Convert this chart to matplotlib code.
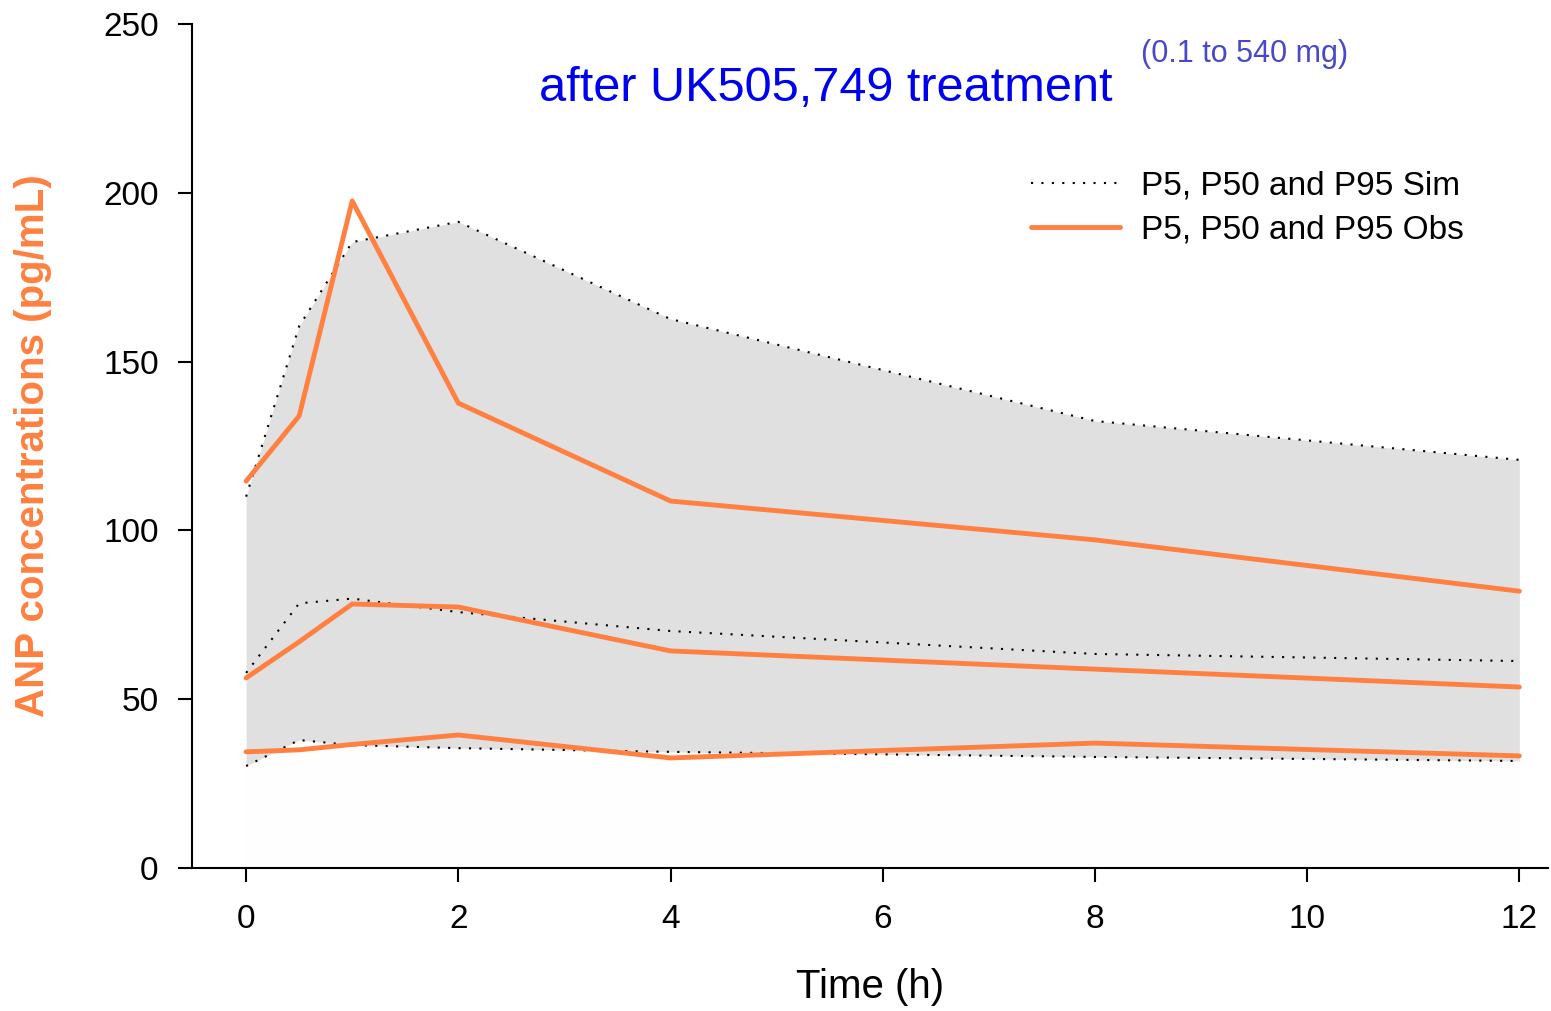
import numpy as np
import matplotlib
matplotlib.use("Agg")
import matplotlib.pyplot as plt

# time points (h)
time_h = [0, 0.5, 1, 2, 4, 8, 12]

# simulated percentiles
sim_p5 = [30.2, 37.9, 36.4, 35.5, 34.4, 32.9, 31.7]
sim_p50 = [57.8, 78.4, 79.8, 75.8, 70.2, 63.4, 61.3]
sim_p95 = [110.0, 160.5, 185.4, 191.4, 162.6, 132.4, 120.9]

# observed percentiles
obs_p5 = [34.4, 35.0, 36.6, 39.4, 32.6, 37.0, 33.2]
obs_p50 = [56.3, 67.0, 78.2, 77.3, 64.3, 58.9, 53.6]
obs_p95 = [114.6, 133.9, 197.6, 137.7, 108.7, 97.2, 82.0]

x_ticks = [0, 2, 4, 6, 8, 10, 12]
y_ticks = [0, 50, 100, 150, 200, 250]

orange = "#FF8040"
plt.rcParams["font.family"] = ["Liberation Sans", "DejaVu Sans"]

fig = plt.figure(figsize=(15.51, 10.11), dpi=100)
ax = fig.add_axes([192 / 1551, 1 - 868 / 1011, 1356 / 1551, 844 / 1011])

ax.fill_between(time_h, 0, sim_p5, color="#FEFEFE", lw=0)
ax.fill_between(time_h, sim_p5, sim_p95, color="#E0E0E0", lw=0)

dots = (0, (1, 4))
for s in [sim_p5, sim_p50]:
    ax.plot(time_h, s, color="black", lw=1.5, ls=dots)
ax.plot(time_h, sim_p95, color="black", lw=1.5, ls=dots, label="P5, P50 and P95 Sim")

for s in [obs_p5, obs_p50]:
    ax.plot(time_h, s, color=orange, lw=3.5, solid_capstyle="round")
ax.plot(time_h, obs_p95, color=orange, lw=3.5, solid_capstyle="round",
        label="P5, P50 and P95 Obs")

ax.set_xlim(-0.51, 12.27)
ax.set_ylim(0, 250)
ax.set_xticks(x_ticks)
ax.set_yticks(y_ticks)
ax.tick_params(axis="both", direction="out", length=10, width=1.5,
               labelsize=24, pad=14)
ax.tick_params(axis="x", pad=16)
for side in ["top", "right"]:
    ax.spines[side].set_visible(False)
for side in ["left", "bottom"]:
    ax.spines[side].set_linewidth(1.5)

ax.set_xlabel("Time (h)", fontsize=29, labelpad=24)

fig.text(33 / 1551, 1 - 446 / 1011, "ANP concentrations (pg/mL)",
         rotation=90, ha="center", va="center", color=orange,
         fontsize=29, fontweight="bold")

fig.text(826 / 1551, 1 - 101 / 1011, "after UK505,749 treatment",
         color="#0000F0", fontsize=35, va="baseline", ha="center")
fig.text(1141 / 1551, 1 - 62 / 1011, "(0.1 to 540 mg)",
         color="#4848C8", fontsize=22, va="baseline", ha="left")

ax.legend(loc="upper left", bbox_to_anchor=(0.619, 0.826), frameon=False,
          fontsize=24, handlelength=2.65, handletextpad=0.65,
          labelspacing=0.38, borderpad=0, borderaxespad=0)

fig.savefig("out.png", dpi=100)
